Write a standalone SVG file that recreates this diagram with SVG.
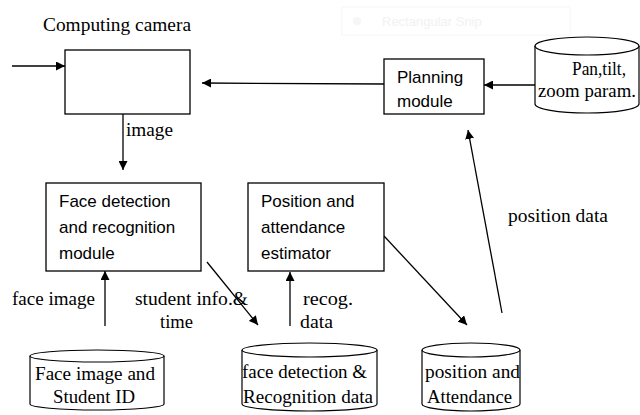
<svg xmlns="http://www.w3.org/2000/svg" width="640" height="415" viewBox="0 0 640 415">
<style>
.box{fill:#fff;stroke:#000;stroke-width:1.3}
.cyl{fill:#fff;stroke:#000;stroke-width:1.2}
.ln{fill:none;stroke:#000;stroke-width:1.3}
.serif{font-family:"Liberation Serif","Times New Roman",serif;font-size:19px;fill:#000}
.sans{font-family:"Liberation Sans",Arial,sans-serif;font-size:17px;fill:#000}
</style>
<defs>
<marker id="arr" viewBox="0 0 10 10" refX="10" refY="5" markerWidth="9" markerHeight="9" markerUnits="userSpaceOnUse" orient="auto">
<path d="M0,0 L10,5 L0,10 z" fill="#000"/>
</marker>
</defs>
<rect width="640" height="415" fill="#fff"/>
<g id="snip" opacity="0.5">
<rect x="342" y="7" width="228" height="28" fill="#fff" stroke="#f0f0f0"/>
<circle cx="357" cy="21" r="4" fill="#eee"/>
<text x="382" y="26" font-family="Liberation Sans,Arial,sans-serif" font-size="13" fill="#e6e6e6">Rectangular Snip</text>
</g>
<g id="connectors">
<line class="ln" x1="12" y1="66" x2="65" y2="66" marker-end="url(#arr)"/>
<line class="ln" x1="384" y1="84" x2="202" y2="83" marker-end="url(#arr)"/>
<line class="ln" x1="535" y1="85" x2="484" y2="85" marker-end="url(#arr)"/>
<line class="ln" x1="123" y1="114" x2="123" y2="170" marker-end="url(#arr)"/>
<line class="ln" x1="105" y1="326" x2="105" y2="271" marker-end="url(#arr)"/>
<line class="ln" x1="290" y1="326" x2="290" y2="272" marker-end="url(#arr)"/>
<line class="ln" x1="207" y1="262" x2="258" y2="325" marker-end="url(#arr)"/>
<line class="ln" x1="384" y1="236" x2="467" y2="325" marker-end="url(#arr)"/>
<line class="ln" x1="502" y1="313" x2="468" y2="130" marker-end="url(#arr)"/>
<text class="serif" x="126" y="136" textLength="47" lengthAdjust="spacingAndGlyphs">image</text>
<text class="serif" x="12" y="305" textLength="83" lengthAdjust="spacingAndGlyphs">face image</text>
<text class="serif" x="135" y="305" textLength="113" lengthAdjust="spacingAndGlyphs">student info.&amp;</text>
<text class="serif" x="160" y="328" textLength="33" lengthAdjust="spacingAndGlyphs">time</text>
<text class="serif" x="303" y="305" textLength="50" lengthAdjust="spacingAndGlyphs">recog.</text>
<text class="serif" x="300" y="328" textLength="33" lengthAdjust="spacingAndGlyphs">data</text>
<text class="serif" x="508" y="222" textLength="100" lengthAdjust="spacingAndGlyphs">position data</text>
</g>
<g id="camera">
<text class="serif" x="43" y="31" textLength="148" lengthAdjust="spacingAndGlyphs">Computing camera</text>
<rect class="box" x="65" y="50" width="125" height="64"/>
</g>
<g id="planning">
<rect class="box" x="384" y="59" width="100" height="55"/>
<text class="sans" x="397" y="83">Planning</text>
<text class="sans" x="397" y="107">module</text>
</g>
<g id="pantilt">
<path class="cyl" d="M535,46 L535,104 A52,9 0 0 0 639,104 L639,46"/>
<ellipse class="cyl" cx="587" cy="46" rx="52" ry="9"/>
<text class="serif" x="572" y="75" textLength="54" lengthAdjust="spacingAndGlyphs">Pan,tilt,</text>
<text class="serif" x="538" y="97" textLength="98" lengthAdjust="spacingAndGlyphs">zoom param.</text>
</g>
<g id="facedet">
<rect class="box" x="46" y="183" width="155" height="88"/>
<text class="sans" x="59" y="207">Face detection</text>
<text class="sans" x="59" y="233">and recognition</text>
<text class="sans" x="59" y="259">module</text>
</g>
<g id="posest">
<rect class="box" x="248" y="183" width="136" height="88"/>
<text class="sans" x="261" y="207">Position and</text>
<text class="sans" x="261" y="233">attendance</text>
<text class="sans" x="261" y="259">estimator</text>
</g>
<g id="faceimgdb">
<path class="cyl" d="M30,356 L30,404 A67,6 0 0 0 164,404 L164,356"/>
<ellipse class="cyl" cx="97" cy="356" rx="67" ry="6"/>
<text class="serif" x="35" y="380" textLength="120" lengthAdjust="spacingAndGlyphs">Face image and</text>
<text class="serif" x="53" y="403" textLength="82" lengthAdjust="spacingAndGlyphs">Student ID</text>
</g>
<g id="recogdb">
<path class="cyl" d="M242,350 L242,404 A67.5,7 0 0 0 377,404 L377,350"/>
<ellipse class="cyl" cx="309.5" cy="350" rx="67.5" ry="7"/>
<text class="serif" x="242" y="378" textLength="125" lengthAdjust="spacingAndGlyphs">face detection &amp;</text>
<text class="serif" x="243" y="403" textLength="130" lengthAdjust="spacingAndGlyphs">Recognition data</text>
</g>
<g id="posdb">
<path class="cyl" d="M422,350 L422,404 A49,7 0 0 0 520,404 L520,350"/>
<ellipse class="cyl" cx="471" cy="350" rx="49" ry="7"/>
<text class="serif" x="425" y="378" textLength="95" lengthAdjust="spacingAndGlyphs">position and</text>
<text class="serif" x="427" y="403" textLength="85" lengthAdjust="spacingAndGlyphs">Attendance</text>
</g>
</svg>
